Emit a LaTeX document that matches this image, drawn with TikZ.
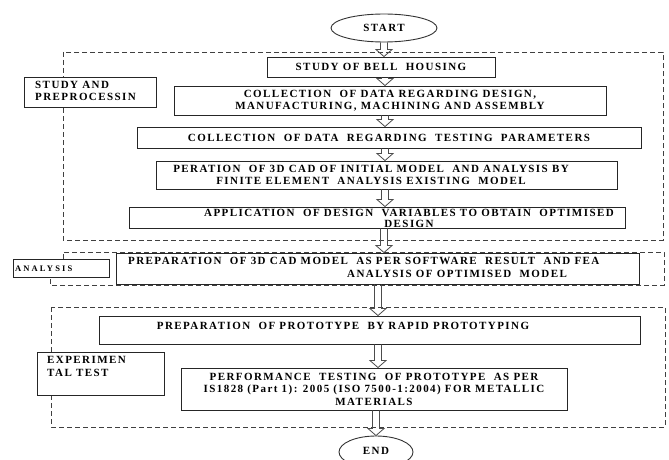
\documentclass[tikz,border=0pt]{standalone}
\usepackage{fontspec}
\setmainfont{Liberation Serif}[LetterSpace=13]
\usetikzlibrary{calc,shapes.geometric}
\tikzset{
  boxfont/.style={font=\fontsize{11}{12.5}\selectfont\bfseries},
  box/.style={draw=black!85, line width=0.9pt, fill=white, inner sep=0pt, align=center, boxfont},
  txt/.style={inner sep=0pt, align=center, boxfont},
  lbl/.style={draw=black!85, line width=0.9pt, fill=white, inner sep=0pt},
  frame/.style={draw=black!75, line width=0.9pt, dash pattern=on 5pt off 3pt},
  term/.style={ellipse, draw=black!80, line width=0.9pt, fill=white, inner sep=0pt, boxfont},
  arrowline/.style={draw=black!70, line width=0.8pt, line join=miter}
}
\newcommand\flowarrow[3]{%
  \draw[arrowline] let \p1=(#1.south), \p2=(#2.north) in
    (#3pt-3.5pt,\y1) -- (#3pt-3.5pt,\y2+7pt) -- (#3pt-8pt,\y2+7pt) -- (#3pt,\y2)
    -- (#3pt+8pt,\y2+7pt) -- (#3pt+3.5pt,\y2+7pt) -- (#3pt+3.5pt,\y1);}
\begin{document}
\begin{tikzpicture}[x=1pt,y=-1pt]
\useasboundingbox[fill=white] (0,0) rectangle (669,460);
% group frames
\draw[frame] (63,52) rectangle (663,240);
\draw[frame] (63,259) -- (63,252) -- (664,252) -- (664,285) -- (50,285) -- (50,277);
\draw[frame] (51,307) rectangle (665,427);
% terminals
\node[term, minimum width=106pt, minimum height=28pt] (start) at (384,28) {START};
\node[term, minimum width=74pt, minimum height=32pt] (end) at (376,452) {\raisebox{3pt}{END}};
% process boxes
\node[box, minimum width=228pt, minimum height=20pt] (bell) at (381,67) {STUDY OF BELL\ \ HOUSING};
\node[box, minimum width=432pt, minimum height=29pt] (coll1) at (390,100.5)
  {COLLECTION\ \ OF DATA REGARDING DESIGN,\\MANUFACTURING, MACHINING AND ASSEMBLY};
\node[box, minimum width=504pt, minimum height=21pt] (coll2) at (389,137.5)
  {COLLECTION\ \ OF DATA\ \ REGARDING\ \ TESTING\ \ PARAMETERS};
\node[box, minimum width=461pt, minimum height=28pt] (cad) at (386.5,175) {};
\node[txt] (cadtxt) at (371,175)
  {PERATION\ \ OF 3D CAD OF INITIAL MODEL\ \ AND ANALYSIS BY\\FINITE ELEMENT\ \ ANALYSIS EXISTING\ \ MODEL};
\node[box, minimum width=496pt, minimum height=21pt] (appl) at (377,217.5) {};
\node[txt, font=\fontsize{11}{11}\selectfont\bfseries] (appltxt) at (409,218.5)
  {APPLICATION\ \ OF DESIGN\ \ VARIABLES TO OBTAIN\ \ OPTIMISED\\DESIGN};
\node[box, minimum width=523pt, minimum height=31pt] (prep) at (377.5,268.5) {};
\node[txt, anchor=west] (preptxta) at (128,260.5)
  {PREPARATION\ \ OF 3D CAD MODEL\ \ AS PER SOFTWARE\ \ RESULT\ \ AND FEA};
\node[txt, anchor=west] (preptxtb) at (347,273.5) {ANALYSIS OF OPTIMISED\ \ MODEL};
\node[box, minimum width=541pt, minimum height=28pt] (proto) at (369.5,330) {};
\node[txt] (prototxt) at (343,325.5) {PREPARATION\ \ OF PROTOTYPE\ \ BY RAPID PROTOTYPING};
\node[box, minimum width=386pt, minimum height=42pt] (perf) at (374,389)
  {PERFORMANCE\ \ TESTING\ \ OF PROTOTYPE\ \ AS PER\\IS1828 (Part 1): 2005 (ISO 7500-1:2004) FOR METALLIC\\MATERIALS};
% side labels
\node[lbl, minimum width=132pt, minimum height=30pt] (lstudy) at (90,92) {};
\node[txt, anchor=west, align=left] (lstudytxt) at (35,91) {STUDY AND\\PREPROCESSIN};
\node[lbl, minimum width=96pt, minimum height=18pt] (lanal) at (61,268) {};
\node[txt, anchor=west, font=\fontsize{8.5}{9}\selectfont\bfseries\addfontfeature{LetterSpace=25}] (lanaltxt) at (15,269) {ANALYSIS};
\node[lbl, minimum width=127pt, minimum height=43pt] (lexp) at (100.5,373.5) {};
\node[txt, anchor=west, align=left] (lexptxt) at (47,366.5) {EXPERIMEN\\TAL TEST};
% arrows
\flowarrow{start}{bell}{384}
\flowarrow{bell}{coll1}{385}
\flowarrow{coll1}{coll2}{385}
\flowarrow{coll2}{cad}{385}
\flowarrow{cad}{appl}{385}
\flowarrow{appl}{prep}{384}
\flowarrow{prep}{proto}{378}
\flowarrow{proto}{perf}{378}
\flowarrow{perf}{end}{376}
\end{tikzpicture}
\end{document}
